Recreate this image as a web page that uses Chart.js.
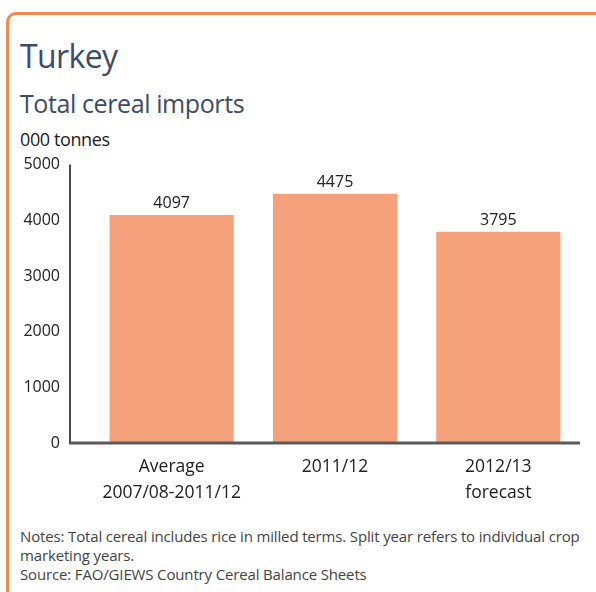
<!DOCTYPE html>
<html>
<head>
<meta charset="utf-8">
<script src="https://cdn.jsdelivr.net/npm/chart.js@4"></script>
<style>
body { margin: 0; background: #fff; font-family: "Open Sans", sans-serif; }
#pagina { position: relative; width: 596px; height: 592px; overflow: hidden; }
#moldura {
    position: absolute; left: 6px; top: 12px; width: 600px; height: 600px;
    border-top: 3px solid #ef8a4f; border-left: 3px solid #ef8a4f;
    border-top-left-radius: 10px;
}
.texto { position: absolute; left: 20px; white-space: nowrap; }
#titulo { top: 34px; font-size: 32px; color: #3b4c68; letter-spacing: -0.6px; }
#subtitulo { top: 86px; font-size: 25px; color: #3b4c68; letter-spacing: -0.4px; }
#unidade { top: 127px; font-size: 18px; color: #222; letter-spacing: -0.4px; }
#notas { top: 527px; font-size: 15px; line-height: 19px; color: #444; letter-spacing: -0.15px; }
#caixa { position: absolute; left: 0; top: 125px; width: 596px; height: 380px; }
</style>
</head>
<body>
<div id="pagina">
    <div id="moldura"></div>
    <div class="texto" id="titulo">Turkey</div>
    <div class="texto" id="subtitulo">Total cereal imports</div>
    <div class="texto" id="unidade">000 tonnes</div>
    <div id="caixa"><canvas id="grafico" width="596" height="380"></canvas></div>
    <div class="texto" id="notas">Notes: Total cereal includes rice in milled terms. Split year refers to individual crop<br>marketing years.<br>Source: FAO/GIEWS Country Cereal Balance Sheets</div>
</div>
<script>
const categorias = [['Average', '2007/08-2011/12'], '2011/12', ['2012/13', 'forecast']];
const importacoes = [4097, 4475, 3795];
const ticksY = [0, 1000, 2000, 3000, 4000, 5000];

// rotulos acima das barras e linhas dos eixos
const extras = {
    id: 'extras',
    afterDatasetsDraw(chart) {
        const ctx = chart.ctx;
        const area = chart.chartArea;
        const y = chart.scales.y;
        const xEixo = area.left - 20;

        ctx.save();
        ctx.strokeStyle = '#4a4a4a';
        ctx.lineWidth = 2;
        ctx.beginPath();
        ctx.moveTo(xEixo, y.getPixelForValue(5000));
        ctx.lineTo(xEixo, area.bottom);
        ctx.stroke();
        ctx.lineWidth = 3;
        ctx.strokeStyle = '#5a5a5a';
        ctx.beginPath();
        ctx.moveTo(xEixo - 1, area.bottom);
        ctx.lineTo(area.right, area.bottom);
        ctx.stroke();

        ctx.fillStyle = '#222';
        ctx.font = '16px "Open Sans"';
        ctx.textAlign = 'center';
        ctx.textBaseline = 'bottom';
        chart.getDatasetMeta(0).data.forEach((barra, i) => {
            ctx.fillText(importacoes[i], barra.x, barra.y - 3);
        });
        ctx.restore();
    }
};

new Chart(document.getElementById('grafico'), {
    type: 'bar',
    data: {
        labels: categorias,
        datasets: [{
            data: importacoes,
            backgroundColor: '#f5a17b',
            barPercentage: 0.76,
            categoryPercentage: 1
        }]
    },
    options: {
        responsive: false,
        animation: false,
        layout: { padding: { left: 0, right: 16, top: 13, bottom: 0 } },
        plugins: { legend: { display: false }, tooltip: { enabled: false } },
        scales: {
            x: {
                grid: { display: false, drawTicks: false },
                border: { display: false },
                ticks: { color: '#222', font: { family: 'Open Sans', size: 17.5, lineHeight: 1.43 }, padding: 12, maxRotation: 0, autoSkip: false },
                afterFit(scale) { scale.height = 62; }
            },
            y: {
                min: 0,
                max: 5000,
                afterBuildTicks(scale) { scale.ticks = ticksY.map(v => ({ value: v })); },
                grid: { display: false, drawTicks: false },
                border: { display: false },
                ticks: { color: '#222', font: { family: 'Open Sans', size: 16 }, padding: 30, callback: v => String(v) },
                afterFit(scale) { scale.width = 90; }
            }
        }
    },
    plugins: [extras]
});
</script>
</body>
</html>
